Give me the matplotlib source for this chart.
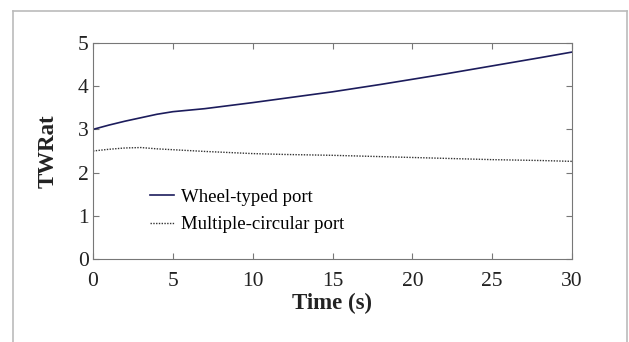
import numpy as np
import matplotlib as mpl
mpl.use('Agg')
import matplotlib.pyplot as plt
from matplotlib.lines import Line2D

# data
time_wheel = [0, 1, 2, 3, 4, 5, 7, 10, 12, 15, 18, 20, 22, 25, 28, 30]
twr_wheel = [3.0, 3.1, 3.19, 3.27, 3.35, 3.41, 3.48, 3.62, 3.72, 3.87, 4.04, 4.16, 4.28, 4.47, 4.66, 4.79]
time_multi = [0, 1, 2, 3, 4, 5, 7, 10, 12, 15, 18, 20, 22, 25, 28, 30]
twr_multi = [2.5, 2.54, 2.57, 2.58, 2.55, 2.53, 2.49, 2.44, 2.42, 2.40, 2.37, 2.35, 2.33, 2.30, 2.28, 2.26]

xticks = [0, 5, 10, 15, 20, 25, 30]
yticks = [0, 1, 2, 3, 4, 5]

plt.rcParams['font.family'] = ['Liberation Serif', 'DejaVu Serif']

fig = plt.figure(figsize=(6.29, 3.42), dpi=100)
ax = fig.add_axes([93/629, 1 - 259/342, (572 - 93)/629, (259 - 43)/342])

ax.plot(time_wheel, twr_wheel, color='#1c1c5c', lw=1.2, label='Wheel-typed port')
ax.plot(time_multi, twr_multi, color='#333333', lw=1.0, ls=(0, (1, 1)), label='Multiple-circular port')

ax.set_xlim(0, 30)
ax.set_ylim(0, 5)
ax.set_xticks(xticks)
ax.set_yticks(yticks)
ax.tick_params(direction='in', which='both', top=True, right=True, labelsize=15.5,
               color='#777777', length=4, labelcolor='#222222')
ax.tick_params(axis='x', pad=9)
ax.tick_params(axis='y', pad=3)
for sp in ax.spines.values():
    sp.set_color('#777777')
    sp.set_linewidth(0.8)

ax.set_xlabel('Time (s)', fontsize=16.5, fontweight='bold', labelpad=2, color='#222222')
ax.set_ylabel('TWRat', fontsize=16.5, fontweight='bold', labelpad=14, color='#222222')

ax.legend(loc='upper left', bbox_to_anchor=(0.12, 0.325), frameon=False, fontsize=13.5,
          handlelength=1.25, handletextpad=0.4, labelspacing=0.55, borderaxespad=0,
          borderpad=0)

# outer grey frame (open at bottom)
fc = '#bbbbbb'
fig.add_artist(Line2D([13/629, 13/629], [0, 1 - 11/342], transform=fig.transFigure, color=fc, lw=1.2))
fig.add_artist(Line2D([13/629, 627/629], [1 - 11/342, 1 - 11/342], transform=fig.transFigure, color=fc, lw=1.2))
fig.add_artist(Line2D([627/629, 627/629], [0, 1 - 11/342], transform=fig.transFigure, color=fc, lw=1.2))

fig.savefig('out.png', dpi=100)
